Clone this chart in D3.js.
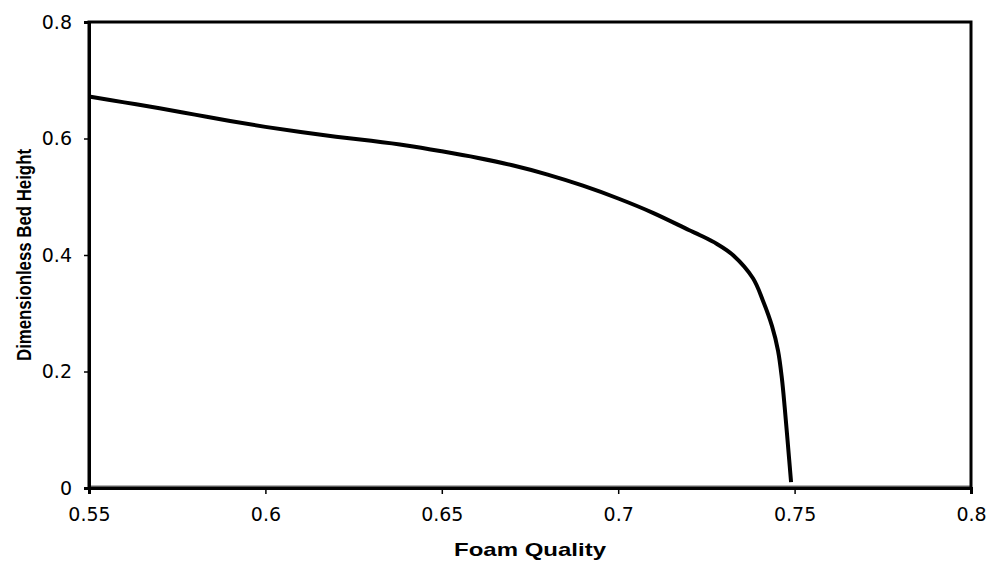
<!DOCTYPE html>
<html>
<head>
<meta charset="utf-8">
<script src="https://cdn.jsdelivr.net/npm/d3@7"></script>
<style>
  body { margin: 0; background: #fff; }
  svg { display: block; }
</style>
</head>
<body>
<script>
// valeurs
const foamQuality = [0.55, 0.56, 0.57, 0.58, 0.59, 0.60, 0.61, 0.62, 0.63, 0.64, 0.65, 0.66, 0.67, 0.68, 0.69, 0.70, 0.71, 0.72, 0.7232, 0.728, 0.7325, 0.7382, 0.741, 0.7436, 0.7453, 0.7464, 0.7472, 0.7481, 0.749];
const bedHeight = [0.672, 0.662, 0.652, 0.641, 0.630, 0.620, 0.611, 0.603, 0.596, 0.588, 0.578, 0.567, 0.554, 0.538, 0.519, 0.497, 0.472, 0.443, 0.434, 0.419, 0.400, 0.360, 0.322, 0.278, 0.236, 0.188, 0.138, 0.075, 0.010];
const xTicks = [0.55, 0.6, 0.65, 0.7, 0.75, 0.8];
const yTicks = [0, 0.2, 0.4, 0.6, 0.8];
const zeroLine = [0.55, 0.8];

const W = 993, H = 564;
const margin = { top: 22, right: 22, bottom: 76, left: 89 };
const width = W - margin.left - margin.right;
const height = H - margin.top - margin.bottom;

const svg = d3.select("body").append("svg")
    .attr("width", W)
    .attr("height", H);

const g = svg.append("g")
    .attr("transform", "translate(" + margin.left + "," + margin.top + ")");

const x = d3.scaleLinear().domain([0.55, 0.8]).range([0, width]);
const y = d3.scaleLinear().domain([0, 0.8]).range([height, 0]);

// ligne grise au niveau zéro
g.append("path")
    .datum(zeroLine)
    .attr("d", d3.line().x(d => x(d)).y(() => y(0) - 2))
    .attr("stroke", "#9a9a9a")
    .attr("stroke-width", 1.5)
    .attr("fill", "none");

// cadre
g.append("rect")
    .attr("x", 0).attr("y", 0)
    .attr("width", width).attr("height", height)
    .attr("fill", "none")
    .attr("stroke", "#000")
    .attr("stroke-width", 3);

const xAxis = g.append("g")
    .attr("transform", "translate(0," + height + ")")
    .call(d3.axisBottom(x).tickValues(xTicks).tickSize(6).tickPadding(14).tickFormat(d3.format("")));

const yAxis = g.append("g")
    .call(d3.axisLeft(y).tickValues(yTicks).tickSize(5).tickPadding(12).tickFormat(d3.format("")));

[xAxis, yAxis].forEach(a => {
    a.select(".domain").attr("stroke", "#000").attr("stroke-width", 3);
    a.selectAll(".tick line").attr("stroke", "#000").attr("stroke-width", 1.5);
    a.selectAll("text")
        .attr("fill", "#000")
        .style("font-family", "'DejaVu Sans', sans-serif")
        .style("font-size", "19px");
});

// courbe
const data = foamQuality.map((q, i) => ({ q: q, h: bedHeight[i] }));
g.append("path")
    .datum(data)
    .attr("d", d3.line().x(d => x(d.q)).y(d => y(d.h)).curve(d3.curveCatmullRom.alpha(0.5)))
    .attr("fill", "none")
    .attr("stroke", "#000")
    .attr("stroke-width", 4)
    .attr("stroke-linejoin", "round");

// titres des axes
svg.append("text")
    .attr("x", margin.left + x(0.675))
    .attr("y", 556)
    .attr("text-anchor", "middle")
    .attr("textLength", 152)
    .attr("lengthAdjust", "spacingAndGlyphs")
    .style("font-family", "'Liberation Sans', Arial, sans-serif")
    .style("font-weight", "bold")
    .style("font-size", "19px")
    .text("Foam Quality");

svg.append("text")
    .attr("transform", "translate(31," + (margin.top + y(0.4)) + ") rotate(-90)")
    .attr("text-anchor", "middle")
    .attr("textLength", 212)
    .attr("lengthAdjust", "spacingAndGlyphs")
    .style("font-family", "'Liberation Sans Narrow', 'Liberation Sans', Arial, sans-serif")
    .style("font-weight", "bold")
    .style("font-size", "21px")
    .text("Dimensionless Bed Height");
</script>
</body>
</html>
